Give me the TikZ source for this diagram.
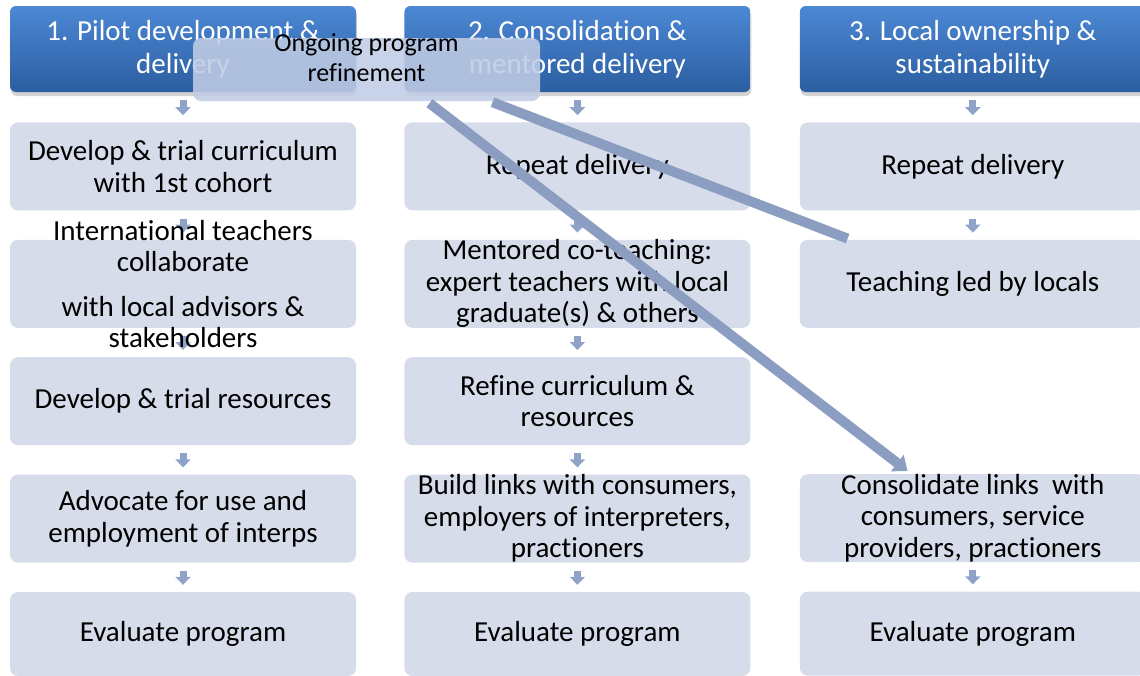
\documentclass[tikz,border=0pt]{standalone}
\usepackage{fontspec}
\setmainfont{Carlito}[Ligatures=NoCommon]
\usetikzlibrary{positioning,calc,shadows,backgrounds,arrows.meta}
\definecolor{cellfill}{RGB}{214,220,233}
\definecolor{headtop}{RGB}{76,136,212}
\definecolor{headbot}{RGB}{44,94,161}
\definecolor{refill}{RGB}{192,204,229}
\definecolor{flowcol}{RGB}{143,163,201}
\definecolor{linkcol}{RGB}{140,157,194}
\tikzset{
  head/.style={rounded corners=6pt, minimum width=346pt, minimum height=86pt,
    top color=headtop, bottom color=headbot, text=white, align=center,
    font=\fontsize{29}{33}\selectfont,
    drop shadow={opacity=0.35, shadow xshift=1pt, shadow yshift=-4pt}},
  box/.style={rounded corners=8pt, minimum width=346pt, minimum height=88pt,
    fill=cellfill, inner sep=0pt},
  txt/.style={align=center, font=\fontsize{29}{31.5}\selectfont, inner sep=0pt},
  cell/.style={box, label={[txt]center:{#1}}},
  ongoing/.style={rounded corners=8pt, minimum width=347pt, minimum height=63pt,
    fill=refill, fill opacity=0.88, inner sep=0pt},
  reftxt/.style={align=center, font=\fontsize{26}{30}\selectfont, inner sep=0pt},
  flow/.style={flowcol, line width=7pt, -{Triangle[width=15pt,length=8pt]},
    shorten <=8pt, shorten >=7pt},
  link/.style={linkcol, line width=10pt}
}

\begin{document}
\begin{tikzpicture}[x=1pt, y=-1pt, node distance=29pt]
  \useasboundingbox (0,0) rectangle (1140,675);
  \clip (0,0) rectangle (1140,675);

  % phase headers
  \node[head]                    (h1) at (183,49) {1. Pilot development \&\\delivery};
  \node[head, right=48pt of h1]  (h2) {2. Consolidation \&\\mentored delivery};
  \node[head, right=49pt of h2]  (h3) {3. Local ownership \&\\sustainability};

  % phase 1
  \node[cell={Develop \& trial curriculum\\with 1st cohort}, below=30pt of h1] (a1) {};
  \node[cell={International teachers\\collaborate\\[13pt]with local advisors \&\\stakeholders}, below=of a1] (a2) {};
  \node[cell={Develop \& trial resources}, below=of a2] (a3) {};
  \node[cell={Advocate for use and\\employment of interps}, below=of a3] (a4) {};
  \node[cell={Evaluate program}, minimum height=84pt, below=of a4] (a5) {};

  % phase 2
  \node[cell={Repeat delivery}, below=30pt of h2] (b1) {};
  \node[cell={Mentored co-teaching:\\expert teachers with local\\graduate(s) \& others}, below=of b1] (b2) {};
  \node[cell={Refine curriculum \&\\resources}, below=of b2] (b3) {};
  \node[cell={Build links with consumers,\\employers of interpreters,\\practioners}, below=of b3] (b4) {};
  \node[cell={Evaluate program}, minimum height=84pt, below=of b4] (b5) {};

  % phase 3
  \node[cell={Repeat delivery}, below=30pt of h3] (c1) {};
  \node[cell={Teaching led by locals}, below=of c1] (c2) {};
  \node[cell={Consolidate links\ \ with\\consumers, service\\providers, practioners}, below=146pt of c2] (c4) {};
  \node[cell={Evaluate program}, minimum height=84pt, below=of c4] (c5) {};

  % little down arrows between steps
  \begin{scope}[on background layer]
    \foreach \u/\v in {h1/a1,a1/a2,a2/a3,a3/a4,a4/a5,h2/b1,b1/b2,b2/b3,b3/b4,b4/b5,h3/c1,c1/c2,c4/c5}
      \draw[flow] (\u) -- (\v);
  \end{scope}

  % refinement runs across all phases
  \node[ongoing, label={[reftxt, yshift=12pt]center:{Ongoing program\\refinement}}] (ref) at (366.5,69.5) {};

  \coordinate (s1) at ($(ref.south)+(63,2)$);
  \coordinate (s2) at ($(ref.south)+(126,1)$);
  \coordinate (e1) at ($(c4.north west)+(108,-3)$);
  \coordinate (e2) at ($(c2.north west)+(48,-1)$);
  \draw[link, -{Triangle[width=20pt,length=13pt]}] (s1) -- (e1);
  \draw[link] (s2) -- (e2);
\end{tikzpicture}
\end{document}
